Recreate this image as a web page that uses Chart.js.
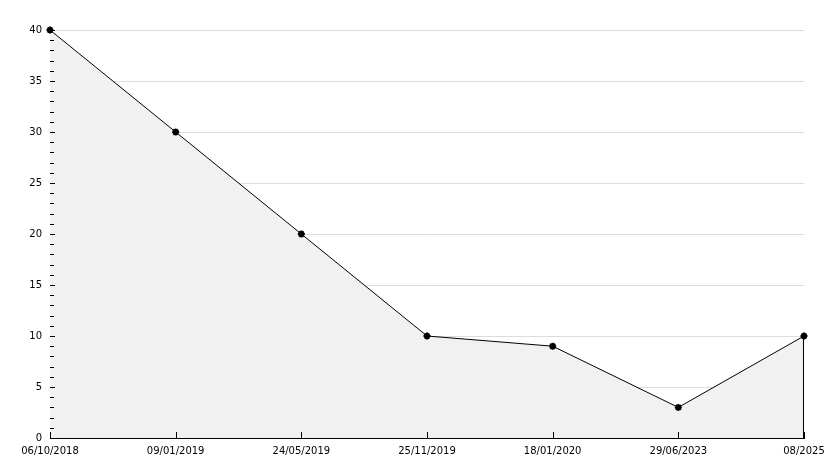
<!DOCTYPE html>
<html>
<head>
<meta charset="utf-8">
<script src="https://cdn.jsdelivr.net/npm/chart.js@4/dist/chart.umd.min.js"></script>
<style>
  html, body { margin: 0; padding: 0; background: #fff; }
  #wrap { width: 834px; height: 468px; }
</style>
</head>
<body>
<div id="wrap"><canvas id="chart"></canvas></div>
<script>
// ── Data
const dates  = ['06/10/2018', '09/01/2019', '24/05/2019', '25/11/2019', '18/01/2020', '29/06/2023', '08/2025'];
const values = [40, 30, 20, 10, 9, 3, 10];
const yMin = 0, yMax = 40, yMajor = 5, yMinor = 1;

// inner tick marks + right edge of the filled area
const tickMarks = {
  id: 'tickMarks',
  afterDatasetsDraw(chart) {
    const { ctx, chartArea: a, scales: { x, y } } = chart;
    ctx.save();
    ctx.strokeStyle = '#000';
    ctx.lineWidth = 1;
    ctx.beginPath();
    for (let v = yMin; v <= yMax; v += yMinor) {
      const py = Math.round(y.getPixelForValue(v)) + 0.5;
      ctx.moveTo(a.left, py);
      ctx.lineTo(a.left + (v % yMajor === 0 ? 5 : 4), py);
    }
    dates.forEach((d, i) => {
      const px = Math.round(x.getPixelForValue(i)) + 0.5;
      ctx.moveTo(px, a.bottom);
      ctx.lineTo(px, a.bottom - 6);
    });
    // closing edge of the area
    const last = values.length - 1;
    const ex = Math.round(x.getPixelForValue(last)) - 0.5;
    ctx.moveTo(ex, y.getPixelForValue(values[last]));
    ctx.lineTo(ex, a.bottom);
    ctx.stroke();
    ctx.restore();
  }
};

Chart.defaults.font.family = "'DejaVu Sans', sans-serif";
Chart.defaults.font.size = 10;
Chart.defaults.color = '#000';

new Chart(document.getElementById('chart'), {
  type: 'line',
  data: {
    labels: dates,
    datasets: [{
      data: values,
      fill: 'origin',
      clip: false,
      backgroundColor: '#f1f1f1',
      borderColor: '#000',
      borderWidth: 1,
      tension: 0,
      pointStyle: 'star',
      pointRadius: 3.5,
      pointBorderWidth: 2,
      pointBackgroundColor: '#000',
      pointBorderColor: '#000',
    }]
  },
  options: {
    responsive: true,
    maintainAspectRatio: false,
    animation: false,
    layout: { padding: { left: 0, right: 30, top: 30, bottom: 0 } },
    plugins: { legend: { display: false }, tooltip: { enabled: false } },
    scales: {
      x: {
        type: 'category',
        offset: false,
        grid: { display: false, drawTicks: false },
        border: { display: true, color: '#000', width: 1 },
        ticks: { padding: 7, maxRotation: 0, autoSkip: false },
        afterFit: (s) => { s.height = 30; },
      },
      y: {
        min: yMin,
        max: yMax,
        grid: { color: (c) => c.tick.value === 0 ? 'rgba(0,0,0,0)' : '#dcdcdc', drawTicks: false },
        border: { display: true, color: '#000', width: 1 },
        ticks: { stepSize: yMajor, padding: 8 },
        afterFit: (s) => { s.width = 50; },
      }
    }
  },
  plugins: [tickMarks]
});
</script>
</body>
</html>
